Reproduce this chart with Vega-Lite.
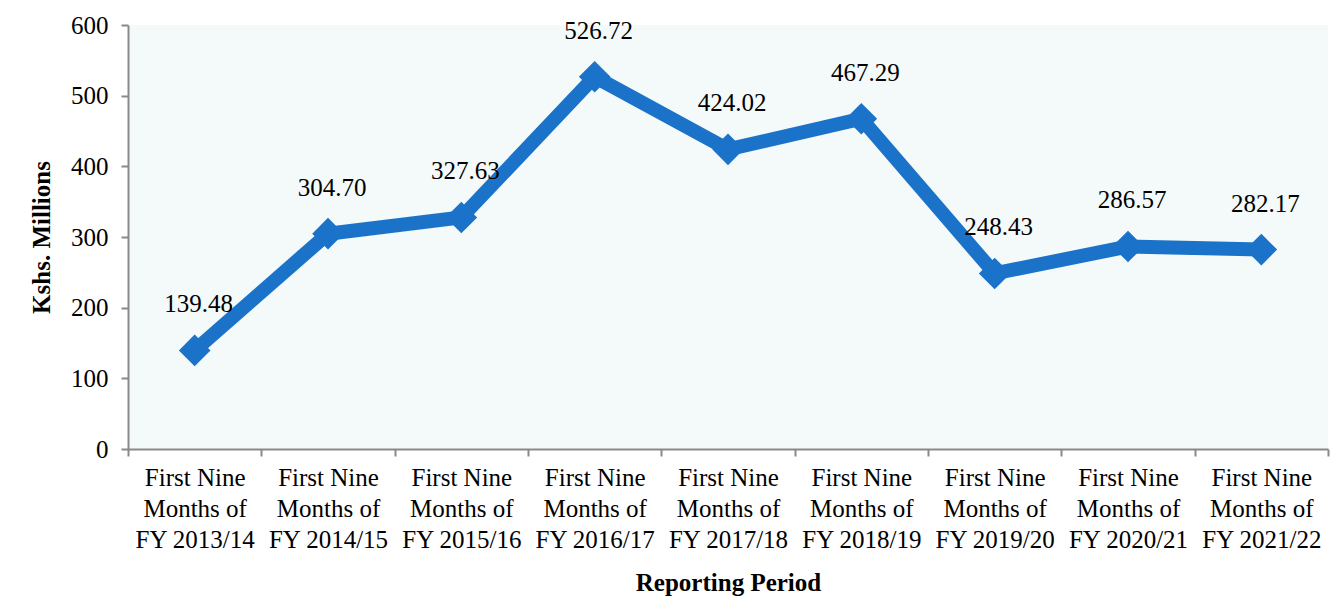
{
  "$schema": "https://vega.github.io/schema/vega-lite/v6.json",
  "autosize": "none",
  "width": 1200,
  "height": 424,
  "padding": {"left": 128, "top": 25, "right": 6, "bottom": 151},
  "background": "white",
  "config": {
    "view": {"fill": "#f4f9fa", "stroke": null},
    "font": "Liberation Serif"
  },
  "data": {
    "values": [
      {"period": "First Nine Months of FY 2013/14", "value": 139.48},
      {"period": "First Nine Months of FY 2014/15", "value": 304.70},
      {"period": "First Nine Months of FY 2015/16", "value": 327.63},
      {"period": "First Nine Months of FY 2016/17", "value": 526.72},
      {"period": "First Nine Months of FY 2017/18", "value": 424.02},
      {"period": "First Nine Months of FY 2018/19", "value": 467.29},
      {"period": "First Nine Months of FY 2019/20", "value": 248.43},
      {"period": "First Nine Months of FY 2020/21", "value": 286.57},
      {"period": "First Nine Months of FY 2021/22", "value": 282.17}
    ]
  },
  "encoding": {
    "x": {
      "field": "period",
      "type": "nominal",
      "sort": null,
      "bandPosition": 0.5,
      "scale": {"type": "band", "paddingInner": 0, "paddingOuter": 0},
      "axis": {
        "title": "Reporting Period",
        "titleFont": "Liberation Serif",
        "titleFontSize": 25,
        "titleFontWeight": "bold",
        "titleColor": "#000000",
        "titlePadding": 18,
        "labelExpr": "[slice(datum.label,0,10), slice(datum.label,11,20), slice(datum.label,21)]",
        "labelAngle": 0,
        "labelFont": "Liberation Serif",
        "labelFontSize": 25,
        "labelColor": "#000000",
        "labelLineHeight": 31,
        "labelPadding": 9,
        "labelBaseline": "top",
        "labelLimit": 0,
        "tickBand": "extent",
        "tickSize": 7,
        "tickColor": "#898989",
        "tickWidth": 2,
        "domainColor": "#898989",
        "domainWidth": 2,
        "grid": false
      }
    },
    "y": {
      "field": "value",
      "type": "quantitative",
      "scale": {"domain": [0, 600], "nice": false},
      "axis": {
        "title": "Kshs. Millions",
        "titleFont": "Liberation Serif",
        "titleFontSize": 25,
        "titleFontWeight": "bold",
        "titleColor": "#000000",
        "titlePadding": 16,
        "values": [0, 100, 200, 300, 400, 500, 600],
        "labelFont": "Liberation Serif",
        "labelFontSize": 25,
        "labelColor": "#000000",
        "labelPadding": 13,
        "tickSize": 7,
        "tickColor": "#898989",
        "tickWidth": 2,
        "domainColor": "#898989",
        "domainWidth": 2,
        "grid": false
      }
    }
  },
  "layer": [
    {
      "mark": {"type": "line", "color": "#1a73c8", "strokeWidth": 14, "strokeJoin": "miter"}
    },
    {
      "mark": {"type": "point", "shape": "diamond", "filled": true, "opacity": 1, "color": "#1a73c8", "size": 1000}
    },
    {
      "mark": {"type": "text", "font": "Liberation Serif", "fontSize": 25, "color": "#000000", "baseline": "alphabetic", "dy": -38, "dx": 4},
      "encoding": {"text": {"field": "value", "type": "quantitative", "format": ".2f"}}
    }
  ]
}
